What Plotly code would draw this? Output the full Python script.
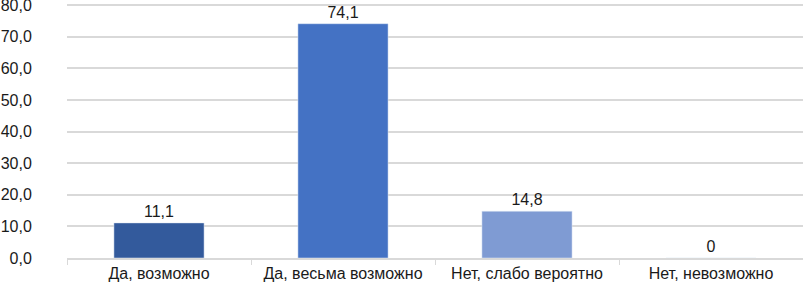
import plotly.graph_objects as go

categories = ["Да, возможно", "Да, весьма возможно", "Нет, слабо вероятно", "Нет, невозможно"]
values = [11.1, 74.1, 14.8, 0]
colors = ["#335A9C", "#4472C4", "#7F9BD3", "#A9BCE3"]
y_ticks = [0, 10, 20, 30, 40, 50, 60, 70, 80]

labels = [(f"{v:.1f}".replace(".", ",") if v else "0") for v in values]

FONT = "Liberation Sans, Arial"
fig = go.Figure(go.Bar(
    x=categories, y=values, marker_color=colors, width=0.49,
    text=labels, textposition="outside", cliponaxis=False,
    textfont=dict(family=FONT, size=16, color="#1a1a1a"),
))

fig.update_layout(
    width=803, height=288,
    margin=dict(l=67, r=0, t=0, b=30),
    plot_bgcolor="white", paper_bgcolor="white",
    showlegend=False, separators=", ",
    font=dict(family=FONT, size=16, color="#1a1a1a"),
    bargap=0.51,
)
fig.update_yaxes(
    range=[0, 81.6], tickvals=y_ticks, tickformat=".1f",
    showgrid=True, gridcolor="#D9D9D9", gridwidth=1.5,
    zeroline=False, ticks="outside", ticklen=31, tickcolor="rgba(0,0,0,0)",
    automargin=False, ticklabeloverflow="allow",
    tickfont=dict(size=16, color="#1a1a1a"),
)
fig.update_xaxes(
    showline=True, linecolor="#D9D9D9", linewidth=1.5, automargin=False,
    ticks="outside", tickson="boundaries", ticklen=5, tickcolor="#D9D9D9",
    tickfont=dict(size=16, color="#1a1a1a"),
)

fig.write_html("out.html", config={"displayModeBar": False},
               post_script="document.body.style.margin='0';document.body.style.overflow='hidden';")
